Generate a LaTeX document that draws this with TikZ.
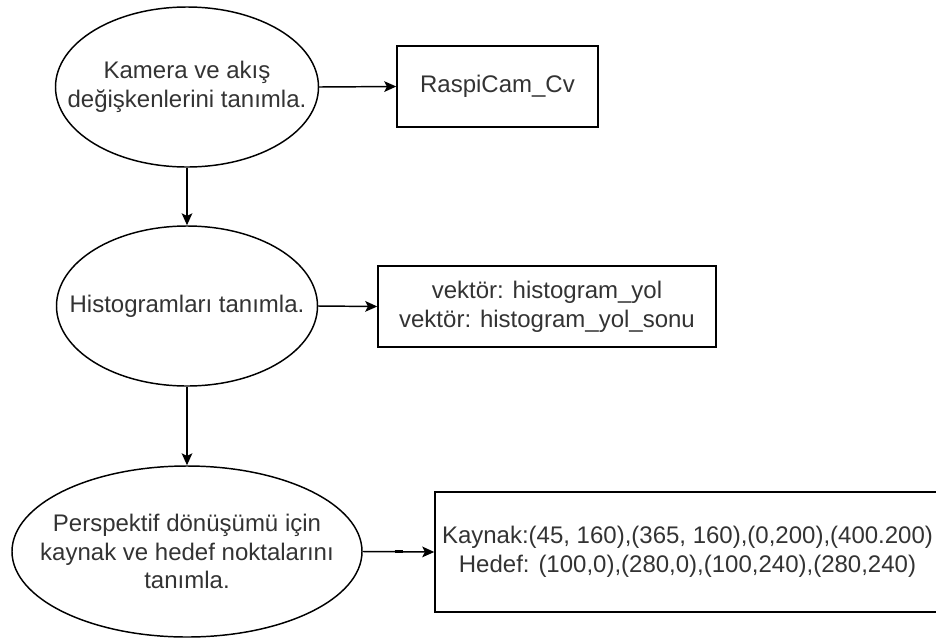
\documentclass[tikz,border=0pt]{standalone}
\usepackage{fontspec}
\setmainfont{Liberation Sans}
\usetikzlibrary{shapes.geometric,arrows.meta}
\definecolor{txtgray}{HTML}{333333}
\begin{document}
\begin{tikzpicture}[x=0.75pt,y=-0.75pt,
  shapeline/.style={draw=black,line width=1.1pt},
  ell/.style={shapeline,ellipse,inner sep=0pt},
  box/.style={shapeline,rectangle,inner sep=0pt},
  txt/.style={text=txtgray,align=center,inner sep=0pt,font=\fontsize{18pt}{21.6pt}\selectfont},
  conn/.style={draw=black,line width=1.1pt,-{Stealth[length=9pt,width=8pt,inset=2pt]}}]
\useasboundingbox (0,0) rectangle (936,640);
% ellipses
\node[ell,minimum width=197.25pt,minimum height=120pt] (e1) at (187,87) {};
\node[txt] (t1) at (e1) {Kamera ve akış\\değişkenlerini tanımla.};
\node[ell,minimum width=195.75pt,minimum height=120pt] (e2) at (187,306) {};
\node[txt] (t2) at (e2) {Histogramları tanımla.};
\node[ell,minimum width=262.5pt,minimum height=128.25pt] (e3) at (187,551.5) {};
\node[txt] (t3) at (e3) {Perspektif dönüşümü için\\kaynak ve hedef noktalarını\\tanımla.};
% boxes
\node[box,minimum width=150.75pt,minimum height=60.75pt] (b1) at (497.5,86.5) {};
\node[txt] (tb1) at (b1) {RaspiCam\_Cv};
\node[box,minimum width=253.5pt,minimum height=60.75pt] (b2) at (547,306.5) {};
\node[txt] (tb2) at (b2) {vektör: histogram\_yol\\vektör: histogram\_yol\_sonu};
\node[box,minimum width=378.75pt,minimum height=90pt] (b3) at (687.5,552) {};
\node[txt] (tb3) at (b3) {Kaynak:(45, 160),(365, 160),(0,200),(400.200)\\Hedef: (100,0),(280,0),(100,240),(280,240)};
% connectors
\draw[conn] (e1.east) -- (b1.west);
\draw[conn] (e1.south) -- (e2.north);
\draw[conn] (e2.east) -- (b2.west);
\draw[conn] (e2.south) -- (e3.north);
\draw[conn] (e3.east) -- coordinate[pos=0.5] (dash) (b3.west);
\draw[line width=2.6pt] ([xshift=-3]dash) -- ([xshift=3]dash);
\end{tikzpicture}
\end{document}
